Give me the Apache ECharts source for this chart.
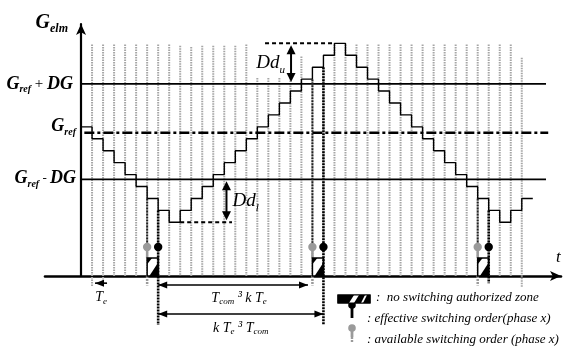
<!DOCTYPE html>
<html><head><meta charset="utf-8">
<script src="https://cdn.jsdelivr.net/npm/echarts@6/dist/echarts.min.js"></script>
<style>html,body{margin:0;padding:0;background:#fff}#c{width:585px;height:354px}</style>
</head><body><div id="c"></div>
<script>
// ---------------- data (time in Te units, G in quantisation steps) ----------------
const startLevel = 14;
const stepLevels = [13,12,11,10,9,8,7,6,5,6,7,8,9,10,11,12,13,14,15,16,17,18,19,20,19,18,17,16,15,14,13,12,11,10,9,8,7,6,5,6,7];
const sampleTimes = [1,2,3,4,5,6,7,8,9,10,11,12,13,14,15,16,17,18,19,20,21,22,23,24,25,26,27,28,29,30,31,32,33,34,35,36,37,38,39,40];
const sampleTops = [19.9,19.9,19.9,19.9,19.9,19.9,19.9,19.9,19.8,19.7,19.8,19.8,19.8,19.8,19.9,17.1,17.1,17.1,17.1,18.9,16.9,17.9,19.9,19.9,19.9,19.9,19.9,19.9,19.9,19.9,19.9,19.9,19.9,19.9,19.9,19.9,19.9,19.9,19.9,18.8];
const sampleBottoms = [-0.42,-0.42,0.5,0.5,0.5,0.5,0.5,0.5,0.5,0.5,0.5,0.5,0.5,0.5,0.5,0.5,0.5,0.5,0.5,0.5,0.5,0.5,0.5,0.5,0.5,0.5,0.5,0.5,0.5,0.5,0.5,0.5,0.5,0.5,0.5,0.5,0.5,0.5,0.5,-0.42];
const refNames = ['G_ref + DG', 'G_ref', 'G_ref - DG'];
const refLevels = [16.6, 12.5, 8.6];
const refStart = [0, 0.3, 0];
const refEnd = [42.2, 42.4, 42.2];
const availableTimes = [6, 21, 36];
const effectiveTimes = [7, 22, 37];
const availableFrom = [7, 17, 7];
const effectiveFrom = [6, 18, 6];
const effectiveTo = [-3.6, -3.6, -0.1];
const pinLevel = 2.93, zoneTop = 2.0, axisLevel = 0.5, availableTo = -0.3;
const vArrowTimes = [19.06, 13.2];      // Dd_u, Dd_l
const vArrowFrom = [20, 8.6];
const vArrowTo = [16.6, 5];
const hArrowLevels = [-0.25, -2.68, -0.1];
const hArrowFrom = [7, 7, 2.36];
const hArrowTo = [20.6, 22, 1.27];
const hArrowBoth = [1, 1, 0];
const dashLevels = [20, 5];
const dashFrom = [16.7, 9];
const dashTo = [23, 13.7];

const X_MIN = -3.27, X_MAX = 43.56, Y_MIN = 0.5, Y_MAX = 21.62;
const FAM = '"Liberation Serif","Times New Roman",serif';

const stairData = [[0, startLevel]];
stepLevels.forEach((l, i) => { stairData.push([i, l]); stairData.push([i + 1, l]); });

function seg(p0, p1, style) { return {type: 'line', shape: {x1: p0[0], y1: p0[1], x2: p1[0], y2: p1[1]}, style: style}; }
function head(tip, ux, uy, len, hw) {
  const bx = tip[0] - ux * len, by = tip[1] - uy * len;
  return {type: 'polygon', shape: {points: [[tip[0], tip[1]], [bx - uy * hw, by + ux * hw], [bx + uy * hw, by - ux * hw]]}, style: {fill: '#000'}};
}
function zoneBox(x0, y0, x1, y1) {
  const w = x1 - x0, h = y1 - y0;
  return [
    {type: 'rect', shape: {x: x0, y: y0, width: w, height: h}, style: {fill: '#fff', stroke: '#000', lineWidth: 1.5}},
    {type: 'polygon', shape: {points: [[x0, y0], [x0 + 0.45 * w, y0], [x0, y0 + 0.35 * h]]}, style: {fill: '#000'}},
    {type: 'polygon', shape: {points: [[x1, y0 + 0.25 * h], [x1, y1], [x0 + 0.2 * w, y1]]}, style: {fill: '#000'}}
  ];
}

const series = [
  { type: 'custom', name: 'samples', z: 1, silent: true,
    data: sampleTimes.map((t, i) => [t, sampleTops[i], sampleBottoms[i]]),
    renderItem: (p, api) => seg(api.coord([api.value(0), api.value(1)]), api.coord([api.value(0), api.value(2)]),
      {stroke: '#a6a6a6', lineWidth: 2, lineDash: [1.5, 1]}) },
  { type: 'line', name: 'G_elm', z: 3, data: stairData, showSymbol: false, silent: true,
    lineStyle: {color: '#000', width: 1.4} }
];
refLevels.forEach((l, i) => series.push({
  type: 'line', name: refNames[i], z: 2, showSymbol: false, silent: true,
  data: [[refStart[i], l], [refEnd[i], l]],
  lineStyle: i === 1 ? {color: '#000', width: 2.6, type: [10, 3, 3, 3]} : {color: '#000', width: 1.6}
}));
series.push({ type: 'custom', name: 'orders', z: 4, silent: true,
  data: availableTimes.map((t, i) => [t, effectiveTimes[i], availableFrom[i], effectiveFrom[i], effectiveTo[i]]),
  renderItem: (p, api) => {
    const ta = api.value(0), te = api.value(1);
    const c = a => api.coord(a);
    const b0 = c([ta, zoneTop]), b1 = c([te, axisLevel]);
    const ch = [];
    ch.push(seg(c([ta, api.value(2)]), c([ta, pinLevel]), {stroke: '#222', lineWidth: 2, lineDash: [2, 1]}));
    ch.push(seg(c([ta, pinLevel]), b0, {stroke: '#9a9a9a', lineWidth: 2.5}));
    ch.push(seg(c([ta, axisLevel]), c([ta, availableTo]), {stroke: '#9a9a9a', lineWidth: 2.5, lineDash: [2, 1]}));
    zoneBox(b0[0], b0[1], b1[0], b1[1]).forEach(e => ch.push(e));
    ch.push(seg(c([te, api.value(3)]), c([te, api.value(4)]), {stroke: '#000', lineWidth: 2.6, lineDash: [2, 1]}));
    const pa = c([ta, pinLevel]), pe = c([te, pinLevel]);
    ch.push({type: 'circle', shape: {cx: pa[0], cy: pa[1], r: 4.2}, style: {fill: '#9a9a9a'}});
    ch.push({type: 'circle', shape: {cx: pe[0], cy: pe[1], r: 4.2}, style: {fill: '#000'}});
    return {type: 'group', children: ch};
  } });
series.push({ type: 'custom', name: 'vArrows', z: 5, silent: true,
  data: vArrowTimes.map((t, i) => [t, vArrowFrom[i], vArrowTo[i]]),
  renderItem: (p, api) => {
    const a = api.coord([api.value(0), api.value(1)]), b = api.coord([api.value(0), api.value(2)]);
    a[1] += 2; b[1] -= 2;
    return {type: 'group', children: [seg([a[0], a[1] + 6], [b[0], b[1] - 6], {stroke: '#000', lineWidth: 2}),
      head(a, 0, -1, 9, 4.5), head(b, 0, 1, 9, 4.5)]};
  } });
series.push({ type: 'custom', name: 'hArrows', z: 5, silent: true,
  data: hArrowLevels.map((l, i) => [hArrowFrom[i], hArrowTo[i], l, hArrowBoth[i]]),
  renderItem: (p, api) => {
    const a = api.coord([api.value(0), api.value(2)]), b = api.coord([api.value(1), api.value(2)]);
    const dir = b[0] > a[0] ? 1 : -1;
    const ch = [seg(a, b, {stroke: '#000', lineWidth: 1.6}), head(b, dir, 0, 9, 3.5)];
    if (api.value(3)) ch.push(head(a, -dir, 0, 9, 3.5));
    return {type: 'group', children: ch};
  } });
series.push({ type: 'custom', name: 'dLevels', z: 5, silent: true,
  data: dashLevels.map((l, i) => [dashFrom[i], dashTo[i], l]),
  renderItem: (p, api) => seg(api.coord([api.value(0), api.value(2)]), api.coord([api.value(1), api.value(2)]),
    {stroke: '#000', lineWidth: 2, lineDash: [4, 3]}) });

const axisCommon = {
  type: 'value', axisTick: {show: false}, axisLabel: {show: false}, splitLine: {show: false}
};
const chart = echarts.init(document.getElementById('c'));
chart.setOption({
  animation: false,
  grid: {left: 45, right: 24, top: 24, bottom: 78},
  xAxis: Object.assign({}, axisCommon, {min: X_MIN, max: X_MAX,
    axisLine: {show: true, lineStyle: {color: '#000', width: 2.6}, symbol: ['none', 'arrow'], symbolSize: [7.5, 11]}}),
  yAxis: Object.assign({}, axisCommon, {min: Y_MIN, max: Y_MAX,
    axisLine: {show: true, onZero: true, lineStyle: {color: '#000', width: 2.2}, symbol: ['none', 'arrow'], symbolSize: [7.5, 11]}}),
  series: series
});

// ---------------- text annotations ----------------
const mctx = document.createElement('canvas').getContext('2d');
function fnt(size, st) { return (st.indexOf('i') >= 0 ? 'italic ' : '') + (st.indexOf('b') >= 0 ? 'bold ' : '') + size + 'px ' + FAM; }
function run(parts, x, y, align) {
  const fonts = parts.map(p => fnt(p[1], p[2]));
  const ws = parts.map((p, i) => { mctx.font = fonts[i]; return mctx.measureText(p[0]).width; });
  const tot = ws.reduce((a, b) => a + b, 0);
  let cx = align === 'right' ? x - tot : align === 'center' ? x - tot / 2 : x;
  return parts.map((p, i) => {
    const el = {type: 'text', x: cx, y: y + (p[3] || 0), silent: true, z: 10,
      style: {text: p[0], font: fonts[i], fill: p[4] || '#000', align: 'left', textAlign: 'left', verticalAlign: 'middle', textVerticalAlign: 'middle'}};
    cx += ws[i]; return el;
  });
}
const px = (t, v) => chart.convertToPixel({gridIndex: 0}, [t, v]);
const o = px(0, Y_MIN);
let g = [];
g = g.concat(run([['G', 20, 'bi'], ['elm', 12, 'bi', 6]], o[0] - 13, 23, 'right'));
g = g.concat(run([['G', 18, 'bi'], ['ref', 10, 'bi', 6], [' + ', 15, ''], ['DG', 18, 'bi']], o[0] - 8, px(0, refLevels[0])[1], 'right'));
g = g.concat(run([['G', 18, 'bi'], ['ref', 10, 'bi', 6]], o[0] - 5, px(0, refLevels[1])[1] - 6, 'right'));
g = g.concat(run([['G', 18, 'bi'], ['ref', 10, 'bi', 6], [' - ', 13, ''], ['DG', 18, 'bi']], o[0] - 5, px(0, refLevels[2])[1] - 1, 'right'));
const du = px(vArrowTimes[0], (vArrowFrom[0] + vArrowTo[0]) / 2);
g = g.concat(run([['Dd', 19, 'i'], ['u', 11, 'i', 7]], du[0] - 6, du[1] - 1, 'right'));
const dl = px(vArrowTimes[1], (vArrowFrom[1] + vArrowTo[1]) / 2);
g = g.concat(run([['Dd', 19, 'i'], ['l', 11, 'i', 7]], dl[0] + 6, dl[1], 'left'));
const te = px((hArrowFrom[2] + hArrowTo[2]) / 2, hArrowLevels[2]);
g = g.concat(run([['T', 14, 'i'], ['e', 9, 'i', 4]], te[0], te[1] + 14, 'center'));
const a1 = px((hArrowFrom[0] + hArrowTo[0]) / 2, hArrowLevels[0]);
g = g.concat(run([['T', 14, 'i'], ['com', 9, 'i', 4], [' ³ ', 14, 'i', -1], ['k T', 14, 'i'], ['e', 9, 'i', 4]], a1[0] + 6, a1[1] + 13, 'center'));
const a2 = px((hArrowFrom[1] + hArrowTo[1]) / 2, hArrowLevels[1]);
g = g.concat(run([['k T', 14, 'i'], ['e', 9, 'i', 4], [' ³ ', 14, 'i', -1], ['T', 14, 'i'], ['com', 9, 'i', 4]], a2[0], a2[1] + 14, 'center'));
const xe = px(X_MAX, Y_MIN);
g = g.concat(run([['t', 17, 'i']], xe[0] - 5, xe[1] - 18, 'left'));

// legend
const LX = 338, LY = 295;
g.push({type: 'rect', z: 10, shape: {x: LX, y: LY, width: 32, height: 8}, style: {fill: '#000', stroke: '#000', lineWidth: 1.2}});
g.push({type: 'polygon', z: 11, shape: {points: [[LX + 11, LY + 8], [LX + 16, LY + 8], [LX + 21, LY], [LX + 16, LY]]}, style: {fill: '#fff'}});
g.push({type: 'polygon', z: 11, shape: {points: [[LX + 23, LY + 8], [LX + 25, LY + 8], [LX + 29, LY], [LX + 27, LY]]}, style: {fill: '#fff'}});
g.push({type: 'rect', z: 12, shape: {x: LX, y: LY, width: 32, height: 8}, style: {fill: 'none', stroke: '#000', lineWidth: 1.2}});
g.push({type: 'circle', z: 10, shape: {cx: 352, cy: 305, r: 3.8}, style: {fill: '#000'}});
g.push({type: 'line', z: 10, shape: {x1: 352, y1: 305, x2: 352, y2: 318}, style: {stroke: '#000', lineWidth: 2.8}});
g.push({type: 'circle', z: 10, shape: {cx: 352, cy: 328, r: 3.8}, style: {fill: '#9a9a9a'}});
g.push({type: 'line', z: 10, shape: {x1: 352, y1: 328, x2: 352, y2: 337}, style: {stroke: '#9a9a9a', lineWidth: 2.8}});
g.push({type: 'line', z: 10, shape: {x1: 352, y1: 337, x2: 352, y2: 343}, style: {stroke: '#9a9a9a', lineWidth: 2.4, lineDash: [2, 1]}});
g = g.concat(run([[':  no switching authorized zone', 13, 'i']], 376, 298, 'left'));
g = g.concat(run([[': effective switching order(phase x)', 13, 'i']], 367, 319, 'left'));
g = g.concat(run([[': available switching order (phase x)', 13, 'i']], 367, 340, 'left'));

chart.setOption({graphic: {elements: g}});
</script></body></html>
